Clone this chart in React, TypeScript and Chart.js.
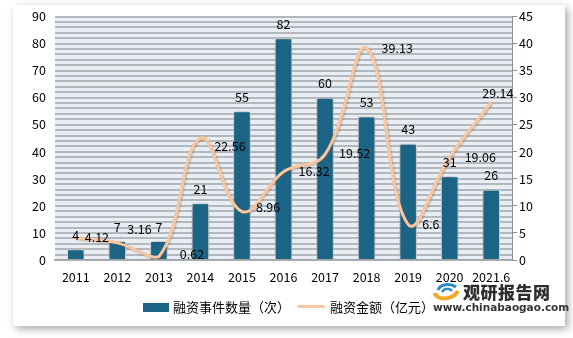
import React, { useEffect, useRef } from "react";
import { Chart, registerables } from "chart.js";

Chart.register(...registerables);

const categories = ["2011", "2012", "2013", "2014", "2015", "2016", "2017", "2018", "2019", "2020", "2021.6"];
const eventCounts = [4, 7, 7, 21, 55, 82, 60, 53, 43, 31, 26];
const amounts = [4.12, 3.16, 0.62, 22.56, 8.96, 16.32, 19.52, 39.13, 6.6, 19.06, 29.14];
const leftTicksMax = 90;
const rightTicksMax = 45;
const barLabel = "融资事件数量（次）";
const lineLabel = "融资金额（亿元）";
// label nudges for the line's value labels (style only)
const lineLabelNudge: [number, number][] = [
  [9, 0], [10, -14], [21, -2], [14, 8], [14, -4], [15, 0], [14, -1], [15, 0], [14, 0], [15, 0], [-9, -9],
];

const FONT = '"Noto Sans CJK SC", "DejaVu Sans", sans-serif';
const BAR_COLOR = "#1c6485";
const LINE_COLOR = "#f9c6a0";

export default function App() {
  const ref = useRef<HTMLCanvasElement | null>(null);

  useEffect(() => {
    if (!ref.current) return;
    const bgPlugin = {
      id: "plotBg",
      beforeDraw(chart: any) {
        const { ctx, chartArea } = chart;
        ctx.save();
        ctx.fillStyle = "#e8eef4";
        ctx.fillRect(chartArea.left, chartArea.top, chartArea.right - chartArea.left, chartArea.bottom - chartArea.top);
        ctx.restore();
      },
    };
    const shadowPlugin = {
      id: "shadows",
      beforeDatasetDraw(chart: any, args: any) {
        const ctx = chart.ctx;
        ctx.save();
        if (args.index === 0) {
          ctx.shadowColor = "rgba(0,0,0,0.5)";
          ctx.shadowBlur = 8;
        } else {
          ctx.shadowColor = "rgba(120,80,40,0.35)";
          ctx.shadowBlur = 2;
          ctx.shadowOffsetX = 1;
          ctx.shadowOffsetY = 1;
        }
      },
      afterDatasetDraw(chart: any) {
        chart.ctx.restore();
      },
    };
    const labelPlugin = {
      id: "valueLabels",
      afterDatasetsDraw(chart: any) {
        const ctx = chart.ctx;
        ctx.save();
        ctx.font = `12.5px ${FONT}`;
        ctx.fillStyle = "#000";
        const barMeta = chart.getDatasetMeta(0);
        ctx.textAlign = "center";
        ctx.textBaseline = "middle";
        barMeta.data.forEach((el: any, i: number) => {
          ctx.fillText(String(eventCounts[i]), el.x, el.y - 14);
        });
        const lineMeta = chart.getDatasetMeta(1);
        ctx.textAlign = "left";
        lineMeta.data.forEach((el: any, i: number) => {
          const [dx, dy] = lineLabelNudge[i];
          ctx.fillText(String(amounts[i]), el.x + dx, el.y + dy);
        });
        ctx.restore();
      },
    };

    const chart = new Chart(ref.current, {
      type: "bar",
      data: {
        labels: categories,
        datasets: [
          {
            type: "bar",
            label: barLabel,
            data: eventCounts,
            yAxisID: "y",
            backgroundColor: BAR_COLOR,
            borderColor: "#ffffff",
            borderWidth: 1,
            barPercentage: 0.42,
            categoryPercentage: 1,
            order: 2,
          },
          {
            type: "line",
            label: lineLabel,
            data: amounts,
            yAxisID: "y1",
            borderColor: LINE_COLOR,
            borderWidth: 3,
            tension: 0.4,
            pointRadius: 0,
            fill: false,
            order: 1,
          } as any,
        ],
      },
      options: {
        animation: false,
        responsive: false,
        maintainAspectRatio: false,
        layout: { padding: { left: 0, right: 0, top: 15, bottom: 48 } },
        plugins: {
          legend: { display: false },
          tooltip: { enabled: false },
        },
        scales: {
          x: {
            grid: { display: false, drawTicks: false },
            border: { display: true, color: "#a0a4a8", width: 1.5 },
            ticks: { color: "#000", font: { family: FONT, size: 12.5 }, padding: 10, maxRotation: 0, autoSkip: false },
            afterFit(scale: any) {
              scale.height = 30;
            },
          },
          y: {
            position: "left",
            min: 0,
            max: leftTicksMax,
            ticks: {
              stepSize: 2,
              autoSkip: false,
              color: "#000",
              font: { family: FONT, size: 12.5 },
              padding: 9,
              callback: (v: any) => (Number(v) % 10 === 0 ? String(v) : ""),
            },
            grid: { color: "#b3b8bd", lineWidth: 2, drawTicks: false },
            border: { display: false },
            afterFit(scale: any) {
              scale.width = 55;
            },
          },
          y1: {
            position: "right",
            min: 0,
            max: rightTicksMax,
            ticks: { stepSize: 5, color: "#000", font: { family: FONT, size: 12.5 }, padding: 2 },
            grid: { drawOnChartArea: false, drawTicks: true, tickLength: 5, color: "#8c9094" },
            border: { display: true, color: "#8c9094", width: 1 },
            afterFit(scale: any) {
              scale.width = 61;
            },
          },
        },
      } as any,
      plugins: [bgPlugin, shadowPlugin, labelPlugin],
    });
    return () => chart.destroy();
  }, []);

  const textStyle: React.CSSProperties = {
    position: "absolute",
    fontFamily: FONT,
    fontSize: 13,
    color: "#000",
    lineHeight: "14px",
    whiteSpace: "nowrap",
  };

  return (
    <div style={{ position: "fixed", left: 0, top: 0, width: 573, height: 338, background: "#ffffff", overflow: "hidden" }}>
      <div
        style={{
          position: "absolute",
          left: 13,
          top: 5,
          width: 552,
          height: 321,
          background: "#fff",
          boxShadow: "3px 3px 8px rgba(0,0,0,0.35)",
        }}
      />
      <canvas ref={ref} width={573} height={338} style={{ position: "absolute", left: 0, top: 0, width: 573, height: 338 }} />
      {/* legend */}
      <div style={{ position: "absolute", left: 143, top: 303, width: 26, height: 9, background: BAR_COLOR }} />
      <div style={{ ...textStyle, left: 173, top: 300 }}>{barLabel}</div>
      <div style={{ position: "absolute", left: 297, top: 305, width: 28, height: 3, background: LINE_COLOR, borderRadius: 2 }} />
      <div style={{ ...textStyle, left: 330, top: 300 }}>{lineLabel}</div>
      {/* watermark */}
      <svg style={{ position: "absolute", left: 432, top: 281 }} width={28} height={20} viewBox="0 0 28 20">
        <path d="M3 12 C4 19, 20 20, 26 10" stroke="#f5a623" strokeWidth={4} fill="none" />
        <path d="M6 9 C8 3, 18 2, 24 6" stroke="#2a8cc2" strokeWidth={3} fill="none" />
        <path d="M10 11 C12 7, 18 7, 20 10" stroke="#2a8cc2" strokeWidth={2.5} fill="none" />
      </svg>
      <div style={{ ...textStyle, left: 463, top: 282, fontSize: 17, fontWeight: 900, color: "#2d2d2d", lineHeight: "20px", letterSpacing: 0.5 }}>
        观研报告网
      </div>
      <div style={{ ...textStyle, left: 433, top: 301, fontSize: 10.5, fontWeight: 700, color: "#333", fontFamily: '"DejaVu Sans", sans-serif', lineHeight: "12px" }}>
        www.chinabaogao.com
      </div>
    </div>
  );
}
